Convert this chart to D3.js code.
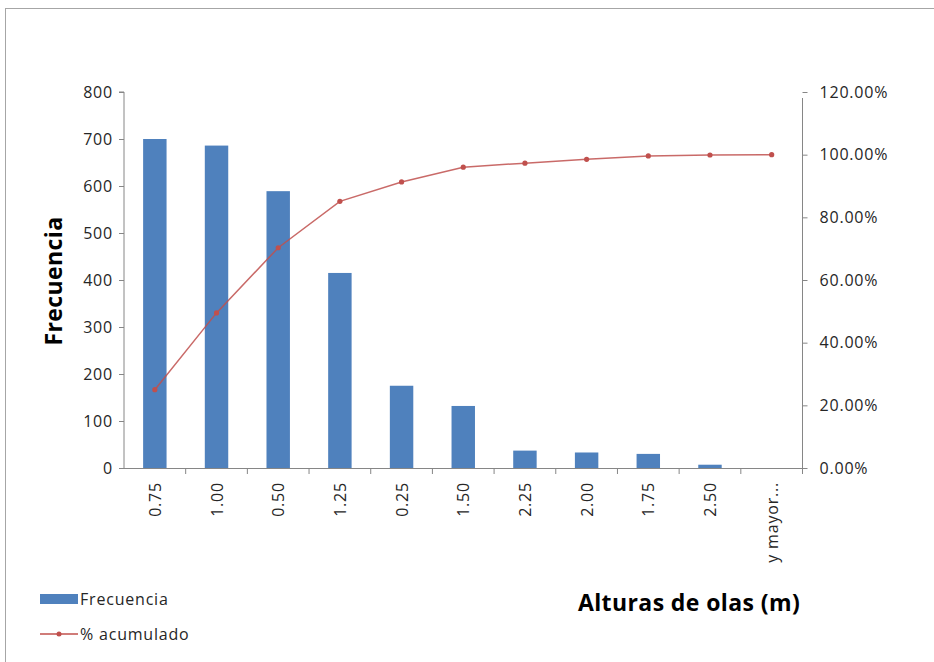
<!DOCTYPE html>
<html><head><meta charset="utf-8">
<script src="https://cdn.jsdelivr.net/npm/d3@7"></script>
<style>body{margin:0;background:#fff}svg{display:block}</style>
</head><body>
<svg id="c" width="934" height="662"></svg>
<script>
const categories = ["0.75","1.00","0.50","1.25","0.25","1.50","2.25","2.00","1.75","2.50","y mayor..."];
const frecuencia = [700, 686, 589, 415, 175, 132, 37, 33, 30, 7, 0];
const acumulado = [25.0, 49.5, 70.3, 85.1, 91.3, 96.0, 97.3, 98.5, 99.6, 99.9, 100.0];
const leftTicks = [0,100,200,300,400,500,600,700,800];
const rightTicks = [0,20,40,60,80,100,120];

const svg = d3.select("#c");
const font = "'Open Sans', 'DejaVu Sans', sans-serif";
const axisCol = "#868686";
const barCol = "#4F81BD";
const lineCol = "#C0504D";
const txtCol = "#262626";

svg.append("rect").attr("x",5.5).attr("y",8.5).attr("width",940).attr("height",670)
  .attr("fill","none").attr("stroke","#a6a6a6");

const L = 124, R = 802.5, T = 92, B = 468;
const x = d3.scaleBand().domain(categories).range([L,R]).paddingInner(0.62).paddingOuter(0.31);
const xb = d3.scaleBand().domain(categories).range([L,R]);
const y = d3.scaleLinear().domain([0,800]).range([B,T]);
const y2 = d3.scaleLinear().domain([0,120]).range([B,T]);

// bars
svg.append("g").selectAll("rect").data(categories).join("rect")
  .attr("x", d => x(d)).attr("width", x.bandwidth())
  .attr("y", (d,i) => y(frecuencia[i])).attr("height", (d,i) => B - y(frecuencia[i]))
  .attr("fill", barCol);

// left axis
const gl = svg.append("g").attr("transform",`translate(${L},0)`)
  .call(d3.axisLeft(y).tickValues(leftTicks).tickSize(5).tickPadding(6).tickFormat(d3.format("d")));
gl.select(".domain").attr("stroke",axisCol).attr("d",`M-5,${T}H0V${B}`);
gl.selectAll(".tick line").attr("stroke",axisCol);
gl.selectAll("text").attr("font-family",font).attr("font-size",16).attr("letter-spacing","0.8px").attr("fill",txtCol);

// right axis
const gr = svg.append("g").attr("transform",`translate(${R},0)`)
  .call(d3.axisRight(y2).tickValues(rightTicks).tickSize(5).tickPadding(12).tickFormat(d => d3.format(".2f")(d)+"%"));
gr.select(".domain").attr("stroke",axisCol).attr("d",`M0,${T+6}V${B+5}`);
gr.selectAll(".tick line").attr("stroke",axisCol);
gr.selectAll("text").attr("font-family",font).attr("font-size",16).attr("letter-spacing","0.8px").attr("fill",txtCol);

// x axis
const gx = svg.append("g").attr("transform",`translate(0,${B})`);
gx.append("line").attr("x1",L-5).attr("x2",R).attr("y1",0.5).attr("y2",0.5).attr("stroke",axisCol);
gx.selectAll("line.t").data(categories.slice(1).concat(["__end"])).join("line").attr("class","t")
  .attr("x1", d => d==="__end" ? R : xb(d)).attr("x2", d => d==="__end" ? R : xb(d))
  .attr("y1",0).attr("y2",6).attr("stroke",axisCol);
gx.selectAll("text").data(categories).join("text")
  .attr("transform", d => `translate(${xb(d)+xb.bandwidth()/2+6},14) rotate(-90)`)
  .attr("text-anchor","end").attr("font-family",font).attr("font-size",16).attr("fill",txtCol)
  .attr("letter-spacing", "0.8px")
  .text(d => d);

// line
const line = d3.line().x((d,i) => xb(categories[i]) + xb.bandwidth()/2).y(d => y2(d));
svg.append("path").datum(acumulado).attr("d", line).attr("fill","none")
  .attr("stroke",lineCol).attr("stroke-opacity",0.85).attr("stroke-width",1.5);
svg.append("g").selectAll("circle").data(acumulado).join("circle")
  .attr("cx",(d,i) => xb(categories[i]) + xb.bandwidth()/2).attr("cy", d => y2(d))
  .attr("r",2.6).attr("fill",lineCol);

// axis titles
svg.append("text").attr("transform","translate(62,281) rotate(-90)").attr("text-anchor","middle")
  .attr("font-family",font).attr("font-weight","bold").attr("font-size",23).attr("letter-spacing","0.4px").attr("fill","#000")
  .text("Frecuencia");
svg.append("text").attr("x",689).attr("y",611).attr("text-anchor","middle")
  .attr("font-family",font).attr("font-weight","bold").attr("font-size",23).attr("letter-spacing","0.4px").attr("fill","#000")
  .text("Alturas de olas (m)");

// legend
svg.append("rect").attr("x",40).attr("y",594).attr("width",38).attr("height",10).attr("fill",barCol);
svg.append("text").attr("x",80).attr("y",605).attr("font-family",font).attr("font-size",16).attr("letter-spacing","0.8px").attr("fill",txtCol).text("Frecuencia");
svg.append("line").attr("x1",40).attr("x2",78).attr("y1",634).attr("y2",634).attr("stroke",lineCol).attr("stroke-width",1.5);
svg.append("circle").attr("cx",59).attr("cy",634).attr("r",2.5).attr("fill",lineCol);
svg.append("text").attr("x",80).attr("y",640).attr("font-family",font).attr("font-size",16).attr("letter-spacing","0.8px").attr("fill",txtCol).text("% acumulado");
</script>
</body></html>
